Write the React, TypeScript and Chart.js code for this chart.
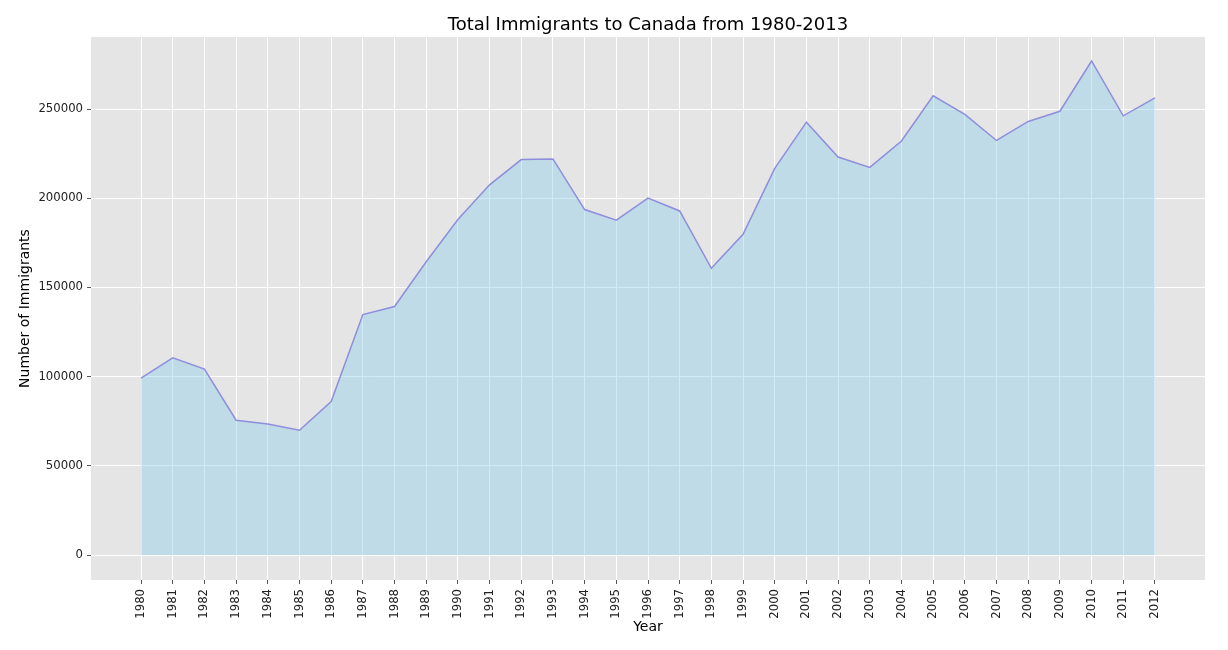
import React, { useEffect, useRef } from "react";
import { Chart, registerables } from "chart.js";

Chart.register(...registerables);

const years: number[] = [
  1980, 1981, 1982, 1983, 1984, 1985, 1986, 1987, 1988, 1989, 1990, 1991,
  1992, 1993, 1994, 1995, 1996, 1997, 1998, 1999, 2000, 2001, 2002, 2003,
  2004, 2005, 2006, 2007, 2008, 2009, 2010, 2011, 2012,
];

const immigrants: number[] = [
  99137, 110563, 104271, 75550, 73417, 69978, 86048, 134771, 139306, 164432,
  188054, 207509, 221687, 222049, 193665, 187712, 200085, 192885, 160727,
  179818, 216712, 242643, 223111, 217297, 232083, 257457, 247057, 232405,
  243047, 248768, 276956, 246194, 256222,
];

const yTicks: number[] = [0, 50000, 100000, 150000, 200000, 250000];

const FONT = "'DejaVu Sans', sans-serif";

const bgPlugin = {
  id: "plotBg",
  beforeDraw(chart: any) {
    const { ctx, chartArea } = chart;
    ctx.save();
    ctx.fillStyle = "#e5e5e5";
    ctx.fillRect(chartArea.left, chartArea.top, chartArea.right - chartArea.left, chartArea.bottom - chartArea.top);
    ctx.restore();
  },
};

export default function App() {
  const ref = useRef<HTMLCanvasElement | null>(null);

  useEffect(() => {
    if (!ref.current) return;
    const chart = new Chart(ref.current, {
      type: "line",
      data: {
        datasets: [
          {
            data: years.map((y, i) => ({ x: y, y: immigrants[i] })),
            borderColor: "#8e8edc",
            backgroundColor: "rgba(135,206,235,0.4)",
            borderWidth: 1.5,
            fill: "origin",
            pointRadius: 0,
            tension: 0,
          },
        ],
      },
      plugins: [bgPlugin],
      options: {
        responsive: false,
        animation: false,
        layout: { padding: { left: 0, right: 23, top: 0, bottom: 0 } },
        plugins: {
          legend: { display: false },
          tooltip: { enabled: false },
          title: {
            display: true,
            fullSize: false,
            text: "Total Immigrants to Canada from 1980-2013",
            color: "#000",
            font: { family: FONT, size: 18, weight: "normal" },
            padding: { top: 15, bottom: 0.4 },
          },
        },
        scales: {
          x: {
            type: "linear",
            min: 1978.42,
            max: 2013.58,
            afterBuildTicks: (scale: any) => {
              scale.ticks = years.map((v) => ({ value: v }));
            },
            afterFit: (scale: any) => {
              scale.height = 70;
            },
            ticks: {
              autoSkip: false,
              minRotation: 90,
              maxRotation: 90,
              padding: 5,
              color: "#222",
              font: { family: FONT, size: 11.7 },
              callback: (v: any) => String(v),
            },
            grid: {
              color: "#ffffff",
              lineWidth: 1,
              drawTicks: true,
              tickLength: 4,
              tickColor: "#555",
            },
            border: { display: false },
            title: {
              display: true,
              text: "Year",
              color: "#000",
              font: { family: FONT, size: 14 },
              padding: { top: 0, bottom: 14 },
            },
          },
          y: {
            type: "linear",
            min: -14000,
            max: 290400,
            afterBuildTicks: (scale: any) => {
              scale.ticks = yTicks.map((v) => ({ value: v }));
            },
            afterFit: (scale: any) => {
              scale.width = 91;
            },
            ticks: {
              padding: 4,
              color: "#222",
              font: { family: FONT, size: 11.7 },
              callback: (v: any) => String(v),
            },
            grid: {
              color: "#ffffff",
              lineWidth: 1,
              drawTicks: true,
              tickLength: 4,
              tickColor: "#555",
            },
            border: { display: false },
            title: {
              display: true,
              text: "Number of Immigrants",
              color: "#000",
              font: { family: FONT, size: 14 },
              padding: { top: 16.6, bottom: 0 },
            },
          },
        },
      },
    } as any);
    return () => chart.destroy();
  }, []);

  return (
    <canvas
      ref={ref}
      width={1228}
      height={650}
      style={{ position: "fixed", left: 0, top: 0, width: 1228, height: 650, background: "#fff" }}
    />
  );
}
